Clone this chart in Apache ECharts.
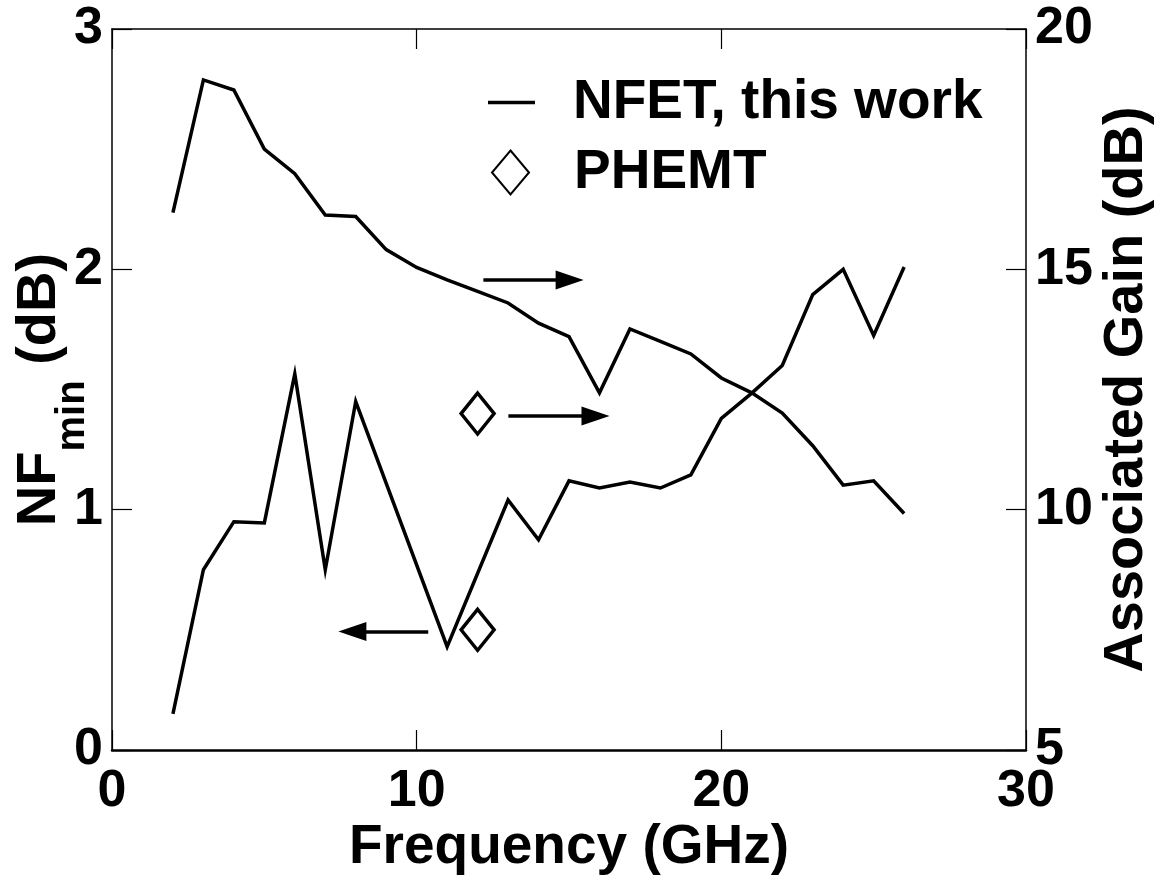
<!DOCTYPE html>
<html>
<head>
<meta charset="utf-8">
<title>NFmin and Associated Gain vs Frequency</title>
<script src="https://cdn.jsdelivr.net/npm/echarts@6/dist/echarts.min.js"></script>
<style>
  html, body { margin: 0; padding: 0; background: #ffffff; }
  #chart { width: 1163px; height: 880px; }
</style>
</head>
<body>
<div id="chart"></div>
<script>
// ---- data ----
// minimum noise figure of the NFET (dB), left axis
const nfFreq   = [2, 3, 4, 5, 6, 7, 8, 11, 13, 14, 15, 16, 17, 18, 19, 20, 21, 22, 23, 24, 25, 26];
const nfValues = [0.15, 0.75, 0.95, 0.945, 1.565, 0.75, 1.45, 0.43, 1.04, 0.875, 1.12, 1.09, 1.115, 1.09, 1.145, 1.38, 1.485, 1.60, 1.895, 2.0, 1.725, 2.01];

// associated gain of the NFET (dB), right axis
const gainFreq   = [2, 3, 4, 5, 6, 7, 8, 9, 10, 11, 12, 13, 14, 15, 16, 17, 18, 19, 20, 21, 22, 23, 24, 25, 26];
const gainValues = [16.18, 18.94, 18.73, 17.50, 16.99, 16.13, 16.10, 15.41, 15.04, 14.78, 14.54, 14.30, 13.88, 13.60, 12.43, 13.76, 13.50, 13.24, 12.74, 12.43, 12.01, 11.33, 10.51, 10.60, 9.92];

// PHEMT reference point
const phemtFreq = [12];
const phemtNF   = [0.5];
const phemtGain = [12.0];

// axis ranges
const freqRange = [0, 30, 10];
const nfRange   = [0, 3, 1];
const gainRange = [5, 20, 5];

// arrows pointing each curve to its axis: [tailX, tipX, y]
const gainArrows = [[12.19, 15.48, 14.78], [13.01, 16.33, 11.95]];
const nfArrows   = [[10.38, 7.43, 0.493]];

// ---- layout ----
const FONT = '"Liberation Sans", Arial, Helvetica, sans-serif';
const GRID = { left: 112, right: 137, top: 29, bottom: 130 };
const W = 1163, H = 880;
const HEAD_LEN = 28, HEAD_W = 19;
const pxPerGHz = (W - GRID.left - GRID.right) / (freqRange[1] - freqRange[0]);

function arrowLines(list) {
  // the triangle head is centred on the end point, so pull the end back by half its length
  return list.map(function (a) {
    const dir = a[1] > a[0] ? 1 : -1;
    const end = a[1] - dir * (HEAD_LEN / 2) / pxPerGHz;
    return [{ coord: [a[0], a[2]] }, { coord: [end, a[2]] }];
  });
}

const markLineBase = {
  silent: true,
  animation: false,
  symbol: ['none', 'triangle'],
  symbolSize: [HEAD_W, HEAD_LEN],
  label: { show: false },
  lineStyle: { color: '#000', width: 3.5, type: 'solid' },
  emphasis: { disabled: true }
};

const tickLabel = { color: '#000', fontFamily: FONT, fontWeight: 'bold', fontSize: 52 };
const tick = { show: true, inside: true, length: 20, lineStyle: { color: '#000', width: 1.2 } };

const chart = echarts.init(document.getElementById('chart'), null, { renderer: 'canvas' });

const lineStyle = { color: '#000', width: 3.5, join: 'miter' };
const diamondStyle = { color: '#fff', borderColor: '#000', borderWidth: 3.5, opacity: 1 };

// left axis title with subscript, drawn as rotated text pieces
const measureCtx = document.createElement('canvas').getContext('2d');
function textWidth(str, size) {
  measureCtx.font = 'bold ' + size + 'px ' + FONT;
  return measureCtx.measureText(str).width;
}
const titleSize = 56, subSize = 40;
const wNF = textWidth('NF', titleSize);
const wMin = textWidth('min', subSize);
const wDB = textWidth(' (dB)', titleSize);
const titleTotal = wNF + wMin + wDB;
const titleCenterY = GRID.top + (H - GRID.top - GRID.bottom) / 2;
const titleStartY = titleCenterY + titleTotal / 2;
function rotText(str, size, x, y) {
  return {
    type: 'text', x: x, y: y, rotation: Math.PI / 2, silent: true,
    style: {
      text: str, fill: '#000', fontFamily: FONT, fontWeight: 'bold', fontSize: size,
      textAlign: 'left', textVerticalAlign: 'middle'
    }
  };
}

const legendText = { color: '#000', fontFamily: FONT, fontWeight: 'bold', fontSize: 55 };

const option = {
  backgroundColor: '#fff',
  animation: false,
  grid: { left: GRID.left, right: GRID.right, top: GRID.top, bottom: GRID.bottom, containLabel: false },
  legend: [
    {
      data: [{ name: 'NFET, this work', icon: 'rect' }],
      left: 488, top: 75, padding: 0,
      itemWidth: 47, itemHeight: 3.5,
      selectedMode: false,
      textStyle: Object.assign({ padding: [0, 0, 0, 33] }, legendText)
    },
    {
      data: ['PHEMT'],
      left: 491, top: 145, padding: 0,
      itemWidth: 37, itemHeight: 44,
      selectedMode: false,
      textStyle: Object.assign({ padding: [0, 0, 0, 40] }, legendText)
    }
  ],
  xAxis: [
    {
      type: 'value', position: 'bottom',
      min: freqRange[0], max: freqRange[1], interval: freqRange[2],
      name: 'Frequency (GHz)', nameLocation: 'middle', nameGap: 70, nameMoveOverlap: false,
      nameTextStyle: { color: '#000', fontFamily: FONT, fontWeight: 'bold', fontSize: 55 },
      axisLine: { show: true, onZero: false, lineStyle: { color: '#000', width: 2.5 } },
      axisTick: tick,
      axisLabel: Object.assign({ margin: 16 }, tickLabel),
      splitLine: { show: false }
    },
    {
      type: 'value', position: 'top',
      min: freqRange[0], max: freqRange[1], interval: freqRange[2],
      axisLine: { show: true, onZero: false, lineStyle: { color: '#000', width: 1.5 } },
      axisTick: tick,
      axisLabel: { show: false },
      splitLine: { show: false }
    }
  ],
  yAxis: [
    {
      type: 'value', position: 'left',
      min: nfRange[0], max: nfRange[1], interval: nfRange[2],
      axisLine: { show: true, onZero: false, lineStyle: { color: '#000', width: 1.5 } },
      axisTick: tick,
      axisLabel: Object.assign({ margin: 9 }, tickLabel),
      splitLine: { show: false }
    },
    {
      type: 'value', position: 'right',
      min: gainRange[0], max: gainRange[1], interval: gainRange[2],
      name: 'Associated Gain (dB)', nameLocation: 'middle', nameRotate: 90, nameGap: 73, nameMoveOverlap: false,
      nameTextStyle: { color: '#000', fontFamily: FONT, fontWeight: 'bold', fontSize: 56 },
      axisLine: { show: true, onZero: false, lineStyle: { color: '#000', width: 1.5 } },
      axisTick: tick,
      axisLabel: Object.assign({ margin: 9 }, tickLabel),
      splitLine: { show: false }
    }
  ],
  graphic: [
    rotText('NF', titleSize, 40, titleStartY),
    rotText('min', subSize, 73, titleStartY - wNF),
    rotText(' (dB)', titleSize, 40, titleStartY - wNF - wMin)
  ],
  series: [
    {
      name: 'NFET, this work', type: 'line', xAxisIndex: 0, yAxisIndex: 0,
      data: nfFreq.map(function (f, i) { return [f, nfValues[i]]; }),
      symbol: 'none', lineStyle: lineStyle, itemStyle: { color: '#000' },
      silent: true, z: 3,
      markLine: Object.assign({ data: arrowLines(nfArrows) }, markLineBase)
    },
    {
      name: 'NFET, this work', type: 'line', xAxisIndex: 0, yAxisIndex: 1,
      data: gainFreq.map(function (f, i) { return [f, gainValues[i]]; }),
      symbol: 'none', lineStyle: lineStyle, itemStyle: { color: '#000' },
      silent: true, z: 3,
      markLine: Object.assign({ data: arrowLines(gainArrows) }, markLineBase)
    },
    {
      name: 'PHEMT', type: 'scatter', xAxisIndex: 0, yAxisIndex: 0,
      data: phemtFreq.map(function (f, i) { return [f, phemtNF[i]]; }),
      symbol: 'diamond', symbolSize: [33, 41], itemStyle: diamondStyle, silent: true, z: 4
    },
    {
      name: 'PHEMT', type: 'scatter', xAxisIndex: 0, yAxisIndex: 1,
      data: phemtFreq.map(function (f, i) { return [f, phemtGain[i]]; }),
      symbol: 'diamond', symbolSize: [33, 41], itemStyle: diamondStyle, silent: true, z: 4
    }
  ]
};

chart.setOption(option);
</script>
</body>
</html>
